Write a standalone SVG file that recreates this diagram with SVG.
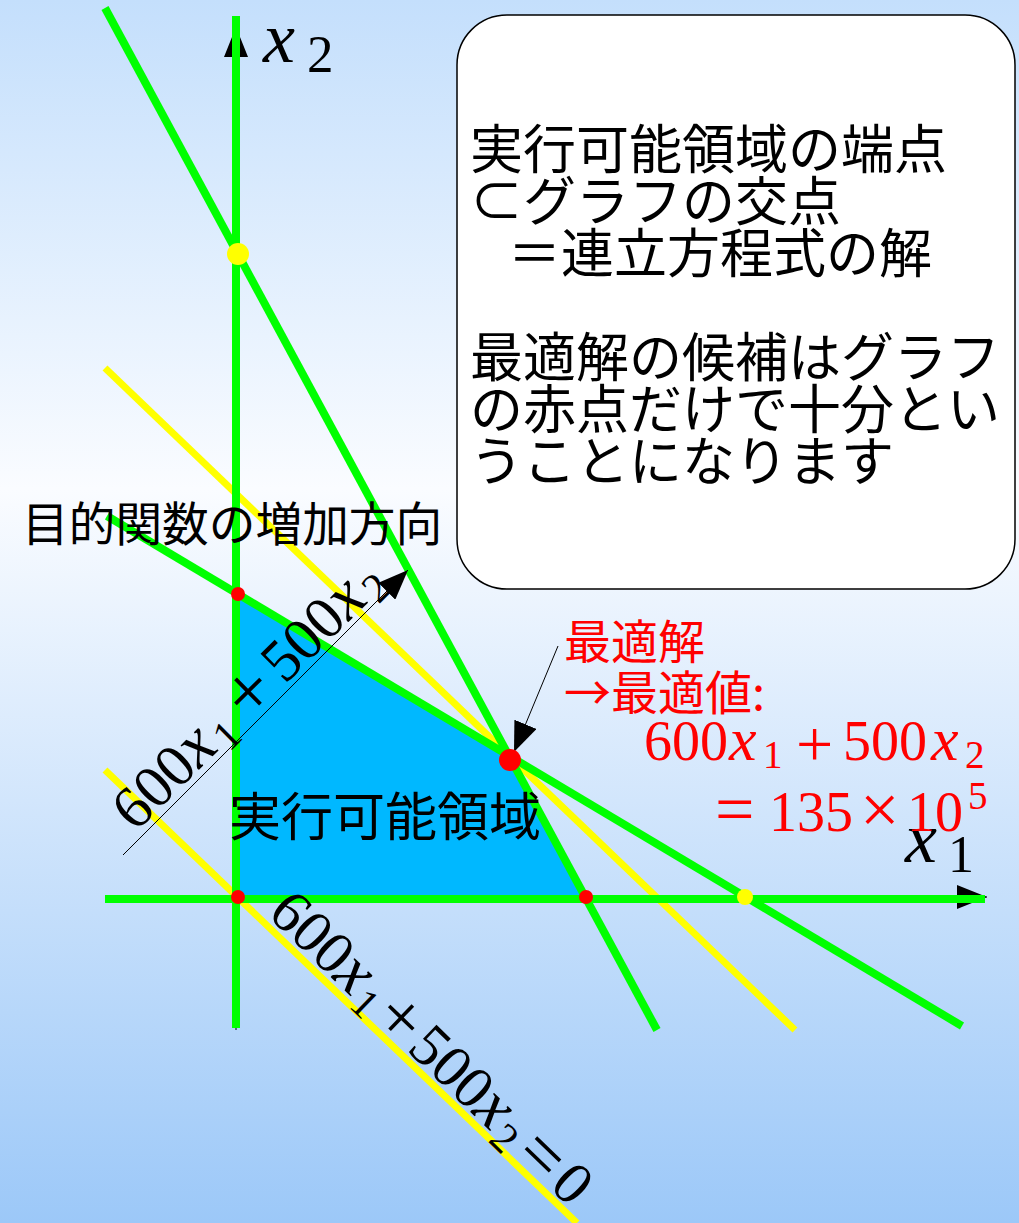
<svg xmlns="http://www.w3.org/2000/svg" width="1019" height="1223" viewBox="0 0 1019 1223">
<defs>
<linearGradient id="bg" x1="0" y1="0" x2="0" y2="1">
<stop offset="0" stop-color="#c4dffc"/>
<stop offset="0.4" stop-color="#fafcff"/>
<stop offset="1" stop-color="#9cc8f8"/>
</linearGradient>
<marker id="ah" viewBox="0 0 30 24" refX="30" refY="12" markerWidth="30" markerHeight="24" markerUnits="userSpaceOnUse" orient="auto">
<path d="M0,0 L30,12 L0,24 Z" fill="#000"/>
</marker>
</defs>
<style>
.jp{font-family:"Noto Sans CJK JP","Noto Sans CJK SC",sans-serif;}
.m{font-family:"Liberation Serif","DejaVu Serif",serif;}
.i{font-style:italic;}
.g{stroke:#00ff00;stroke-width:8;fill:none;}
.y{stroke:#ffff00;stroke-width:7;fill:none;}
.thin{stroke:#000;stroke-width:1;fill:none;}
</style>
<rect x="0" y="0" width="1019" height="1223" fill="url(#bg)"/>

<g id="feasible-region">
<polygon points="238,594 509,757 586,897 238,897" fill="#00b8ff" stroke="#1a3a5a" stroke-width="1.2"/>
</g>

<g id="axes">
<line x1="236" y1="1030" x2="236" y2="27" class="thin" marker-end="url(#ah)"/>
<line x1="105" y1="897" x2="987" y2="897" class="thin" marker-end="url(#ah)"/>
</g>

<g id="connectors">
<line x1="105" y1="368" x2="795" y2="1030" class="y"/>
<line x1="105" y1="770" x2="577" y2="1223" class="y"/>
<line x1="236" y1="16" x2="236" y2="1028" class="g"/>
<line x1="105" y1="899" x2="985" y2="899" class="g"/>
<line x1="105" y1="8" x2="657" y2="1030" class="g"/>
<line x1="107" y1="516" x2="962" y2="1026" class="g"/>
<line x1="123" y1="855" x2="408" y2="570" class="thin" marker-end="url(#ah)"/>
<line x1="558" y1="646" x2="514" y2="752" class="thin" marker-end="url(#ah)"/>
</g>

<g id="points">
<circle cx="238" cy="254" r="11" fill="#ffff00"/>
<circle cx="745" cy="897" r="8" fill="#ffff00"/>
<circle cx="238" cy="594" r="7" fill="#ff0000"/>
<circle cx="238" cy="897" r="7" fill="#ff0000"/>
<circle cx="586" cy="897" r="7" fill="#ff0000"/>
<circle cx="510" cy="760" r="11" fill="#ff0000"/>
</g>

<g id="axis-labels" class="m">
<text x="263" y="62" font-size="72" class="i">x</text>
<text x="307" y="72" font-size="53">2</text>
<text x="905" y="862" font-size="72" class="i">x</text>
<text x="948" y="872" font-size="52">1</text>
</g>

<g id="note-box">
<rect x="457" y="15" width="558" height="574" rx="50" ry="50" fill="#ffffff" stroke="#000" stroke-width="1.5"/>
<g class="jp" font-size="53" fill="#000">
<text x="470" y="169">実行可能領域の端点</text>
<text x="470" y="221">⊂グラフの交点</text>
<text x="508" y="273">＝連立方程式の解</text>
<text x="470" y="377">最適解の候補はグラフ</text>
<text x="470" y="429">の赤点だけで十分とい</text>
<text x="470" y="481">うことになります</text>
</g>
</g>

<g id="objective-label">
<text class="jp" x="22" y="541" font-size="46.7" fill="#000">目的関数の増加方向</text>
<text class="m" font-size="60" fill="#000" transform="translate(135.4,832.7) rotate(-44.7)"><tspan x="0" y="0">600</tspan><tspan x="90" class="i" font-size="66">x</tspan><tspan x="123" y="9" font-size="42">1</tspan><tspan x="158" y="4" font-size="76">+</tspan><tspan x="210" y="0">500</tspan><tspan x="300" class="i" font-size="66">x</tspan><tspan x="333" y="9" font-size="42">2</tspan></text>
</g>

<g id="zero-label">
<text class="m" font-size="60" fill="#000" transform="translate(266.3,915) rotate(44)"><tspan x="0" y="0">600</tspan><tspan x="90" class="i" font-size="66">x</tspan><tspan x="122" y="9" font-size="42">1</tspan><tspan x="148" y="4" font-size="72">+</tspan><tspan x="194" y="0">500</tspan><tspan x="284" class="i" font-size="66">x</tspan><tspan x="316" y="9" font-size="42">2</tspan><tspan x="345" y="4" font-size="72">=</tspan><tspan x="392" y="0">0</tspan></text>
</g>

<g id="region-label">
<text class="jp" x="229" y="836" font-size="52" fill="#000">実行可能領域</text>
</g>

<g id="optimum-label" fill="#ff0000">
<text class="jp" x="564" y="659" font-size="47">最適解</text>
<text class="jp" x="564" y="710" font-size="47">→最適値:</text>
<text class="m" font-size="56"><tspan x="644" y="760">600</tspan><tspan x="729" class="i" font-size="62">x</tspan><tspan x="763" y="768" font-size="39">1</tspan><tspan x="796" y="766" font-size="66">+</tspan><tspan x="843" y="760">500</tspan><tspan x="931" class="i" font-size="62">x</tspan><tspan x="965" y="768" font-size="39">2</tspan></text>
<text class="m" font-size="56"><tspan x="715" y="833" font-size="70">=</tspan><tspan x="769" y="831">135</tspan><tspan x="860" y="833" font-size="70">×</tspan><tspan x="907" y="831">10</tspan><tspan x="968" y="809" font-size="39">5</tspan></text>
</g>
</svg>
